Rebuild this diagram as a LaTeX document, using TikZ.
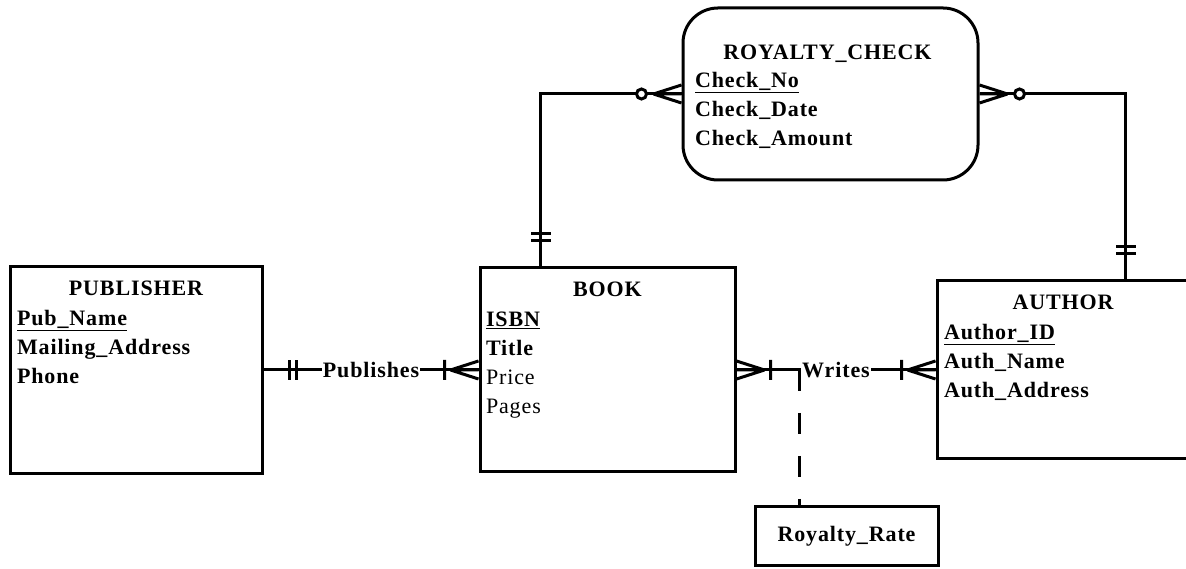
\documentclass[tikz,border=0pt]{standalone}
\usepackage{fontspec}
\setmainfont{Liberation Serif}[LetterSpace=4.0]
\usetikzlibrary{positioning, calc}
\newcommand\erfont{\fontsize{22}{29}\selectfont\bfseries}
\tikzset{
  every picture/.style={line width=3pt},
  entity/.style={draw, rectangle, inner sep=0pt},
  heading/.style={font=\erfont, inner sep=0pt},
  attrs/.style={font=\erfont, align=left, inner sep=0pt},
  rel/.style={font=\erfont, fill=white, inner sep=1pt},
  depend/.style={dash pattern=on 21pt off 22pt},
  % crow's foot marks, drawn outward along +x from the box edge
  onemany/.pic={\draw (0,9) -- (28,0) (0,0) -- (28,0) (0,-9) -- (28,0) (34,-10) -- (34,10);},
  zeromany/.pic={\draw (0,9) -- (28,0) (0,0) -- (28,0) (0,-9) -- (28,0);
    \filldraw[fill=white] (40,0) circle[radius=5pt];},
  onlyone/.pic={\draw (26,-10) -- (26,10) (33,-10) -- (33,10);},
}

\begin{document}
\begin{tikzpicture}[x=1pt, y=1pt]
  \useasboundingbox (0,0) rectangle (1186,569);
  % entities
  \node[entity, minimum width=252pt, minimum height=207pt] (pub) at (136,199) {};
  \node[entity, minimum width=255pt, minimum height=204pt] (book) at (607.5,199) {};
  \node[entity, minimum width=252pt, minimum height=178pt] (author) at (1063,199) {};
  \node[entity, rounded corners=35pt, minimum width=295pt, minimum height=172pt] (check) at (830.5,475) {};
  \node[entity, font=\erfont, minimum width=183pt, minimum height=59pt] (rate) at (846.5,32.5) {Royalty\_Rate};
  \node[heading, below=14pt of pub.north] (pubtitle) {PUBLISHER};
  \node[attrs, below right=44pt and 7pt of pub.north west] (pubattrs) {\underline{Pub\_Name}\\Mailing\_Address\\Phone};
  \node[heading, below=14pt of book.north] (booktitle) {BOOK};
  \node[attrs, below right=44pt and 6pt of book.north west] (bookattrs) {\underline{ISBN}\\Title\\{\mdseries Price}\\{\mdseries Pages}};
  \node[heading, below=13.5pt of author.north] (authortitle) {AUTHOR};
  \node[attrs, below right=43.5pt and 7pt of author.north west] (authorattrs) {\underline{Author\_ID}\\Auth\_Name\\Auth\_Address};
  \node[heading, below=36.5pt of check.north, xshift=-3pt] (checktitle) {ROYALTY\_CHECK};
  \node[attrs, below right=64.5pt and 12pt of check.north west] (checkattrs) {\underline{Check\_No}\\Check\_Date\\Check\_Amount};
  % relationships
  \draw (pub.east) -- node[rel] (publishes) {Publishes} (book.west);
  \pic at (pub.east) {onlyone};
  \pic[rotate=180] at (book.west) {onemany};
  \draw (book.east) -- node[rel] (writes) {Writes} (author.west);
  \pic at (book.east) {onemany};
  \pic[rotate=180] at (author.west) {onemany};
  \draw[depend] (writes.west) -- (writes.west |- rate.north);
  \coordinate (bk) at ($(book.north west)+(62,0)$);
  \coordinate (au) at ($(author.north west)+(190,0)$);
  \draw (bk) |- (check.west);
  \draw (au) |- (check.east);
  \pic[rotate=90] at (bk) {onlyone};
  \pic[rotate=90] at (au) {onlyone};
  \pic[rotate=180] at (check.west) {zeromany};
  \pic at (check.east) {zeromany};
\end{tikzpicture}
\end{document}
